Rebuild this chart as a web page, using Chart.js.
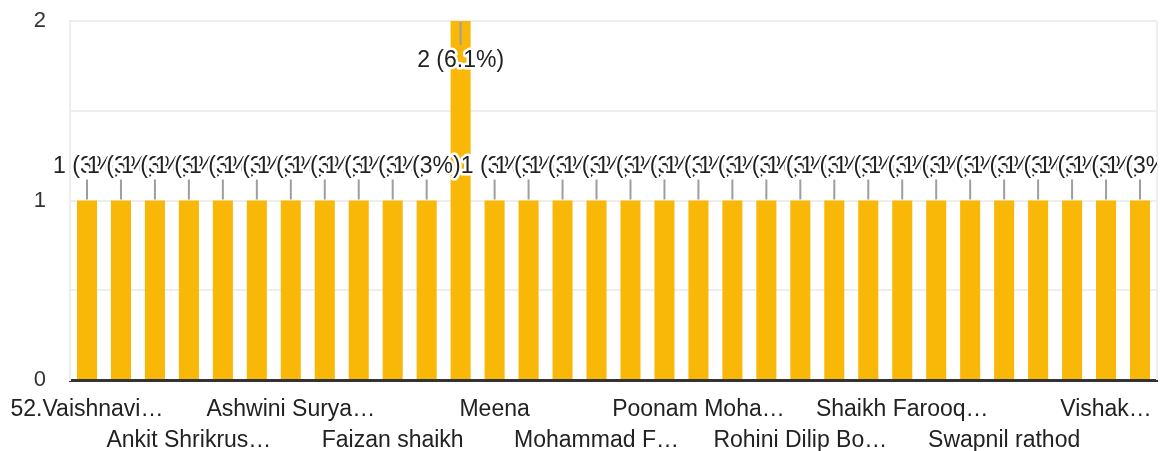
<!DOCTYPE html>
<html>
<head>
<meta charset="utf-8">
<script src="https://cdn.jsdelivr.net/npm/chart.js@4.4.1/dist/chart.umd.min.js"></script>
<style>
  html, body { margin: 0; padding: 0; background: #fff; }
  #wrap { width: 1166px; height: 451px; }
</style>
</head>
<body>
<div id="wrap"><canvas id="responses"></canvas></div>
<script>
// respondent names (sorted), as shown on the axis
const names = [
    "52.Vaishnavi…", "Aarti Patil", "Akash Jadhav",
    "Ankit Shrikrus…", "Arati More", "Arjun Pawar",
    "Ashwini Surya…", "Ayesha Khan", "Deepak Shinde",
    "Faizan shaikh", "Gaurav Kale", "Kiran Jadhav",
    "Meena", "Mohammad Aamir", "Mohammad Arif",
    "Mohammad F…", "Nikita Deshmukh", "Pooja Gaikwad",
    "Poonam Moha…", "Priya Sonawane", "Rahul Wagh",
    "Rohini Dilip Bo…", "Sachin Bhosale", "Sakshi Kulkarni",
    "Shaikh Farooq…", "Shital Pawar", "Sneha Patil",
    "Swapnil rathod", "Tejas More", "Vaibhav Jagtap",
    "Vishak…", "Yogesh Chavan"
];
const counts = [
    1, 1, 1, 1, 1, 1, 1, 1, 1, 1, 1, 2,
    1, 1, 1, 1, 1, 1, 1, 1, 1, 1, 1, 1,
    1, 1, 1, 1, 1, 1, 1, 1
];
const yTicks = [0, 1, 2];

const total = counts.reduce((a, b) => a + b, 0);
const FONT = "'Liberation Sans', Arial, sans-serif";

function pctText(v) {
    let p = (v / total * 100).toFixed(1);
    if (p.endsWith('.0')) p = p.slice(0, -2);
    return v + ' (' + p + '%)';
}

// value labels with a leader line, drawn with a white halo like the forms summary
const valueLabels = {
    id: 'valueLabels',
    afterDatasetsDraw(chart) {
        const ctx = chart.ctx;
        const area = chart.chartArea;
        const bars = chart.getDatasetMeta(0).data;
        ctx.save();
        ctx.beginPath();
        ctx.rect(0, 0, area.right, chart.height);
        ctx.clip();
        // leader lines first
        ctx.strokeStyle = '#9e9e9e';
        ctx.lineWidth = 2;
        bars.forEach((bar) => {
            const top = bar.y;
            const inside = top - area.top < 40;
            ctx.beginPath();
            if (inside) {
                ctx.moveTo(bar.x, top + 1);
                ctx.lineTo(bar.x, top + 24);
            } else {
                ctx.moveTo(bar.x, top - 21);
                ctx.lineTo(bar.x, top - 1);
            }
            ctx.stroke();
        });
        ctx.font = '23px ' + FONT;
        ctx.textAlign = 'center';
        ctx.textBaseline = 'alphabetic';
        ctx.lineJoin = 'round';
        bars.forEach((bar, i) => {
            const top = bar.y;
            const inside = top - area.top < 40;
            const y = inside ? top + 46 : top - 28;
            const txt = pctText(counts[i]);
            ctx.strokeStyle = '#ffffff';
            ctx.lineWidth = 5;
            ctx.strokeText(txt, bar.x, y);
            ctx.fillStyle = '#222222';
            ctx.fillText(txt, bar.x, y);
        });
        ctx.restore();
    }
};

// light frame line on the right edge of the plot
const rightEdge = {
    id: 'rightEdge',
    beforeDatasetsDraw(chart) {
        const {ctx, chartArea} = chart;
        ctx.save();
        ctx.strokeStyle = '#eeeeee';
        ctx.lineWidth = 2;
        ctx.beginPath();
        ctx.moveTo(chartArea.right, chartArea.top);
        ctx.lineTo(chartArea.right, chartArea.bottom);
        ctx.stroke();
        ctx.restore();
    }
};

new Chart(document.getElementById('responses'), {
    type: 'bar',
    data: {
        labels: names,
        datasets: [{
            label: 'Responses',
            data: counts,
            backgroundColor: '#f9b707',
            borderWidth: 0,
            barPercentage: 0.59,
            categoryPercentage: 1
        }]
    },
    options: {
        responsive: true,
        maintainAspectRatio: false,
        animation: false,
        layout: { padding: { top: 21, right: 9, left: 0, bottom: 0 } },
        plugins: {
            legend: { display: false },
            tooltip: { enabled: true }
        },
        scales: {
            x: {
                grid: { display: false },
                border: { color: '#333333', width: 3 },
                afterFit(scale) {
                    scale.height = 71;
                    scale.paddingLeft = 0;
                    scale.paddingRight = 0;
                },
                ticks: {
                    autoSkip: false,
                    maxRotation: 0,
                    minRotation: 0,
                    padding: 6,
                    color: '#222222',
                    font: { family: FONT, size: 23, lineHeight: 1.35 },
                    callback(val, i) {
                        if (i % 3 !== 0) return '';
                        return (i / 3) % 2 ? ['', names[i]] : names[i];
                    }
                }
            },
            y: {
                min: yTicks[0],
                max: yTicks[yTicks.length - 1],
                afterFit(scale) {
                    scale.width = 70;
                    scale.paddingTop = 0;
                    scale.paddingBottom = 0;
                },
                grid: {
                    color: (c) => c.tick && c.tick.value === 0 ? 'rgba(0,0,0,0)' : '#eeeeee',
                    lineWidth: 2,
                    drawTicks: false
                },
                border: { color: '#eeeeee', width: 2 },
                ticks: {
                    stepSize: 0.5,
                    padding: 24,
                    color: '#333333',
                    font: { family: FONT, size: 22 },
                    callback: (v) => yTicks.includes(v) ? v : ''
                }
            }
        }
    },
    plugins: [rightEdge, valueLabels]
});
</script>
</body>
</html>
